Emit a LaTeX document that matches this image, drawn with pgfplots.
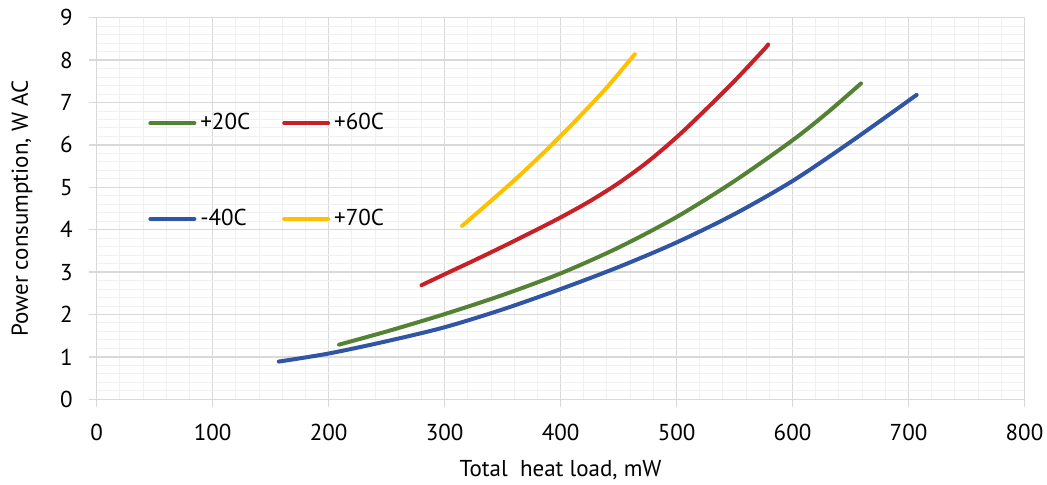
\documentclass[border=0pt]{standalone}
\usepackage{fontspec}
\setmainfont{PT Sans}
\usepackage{pgfplots}
\usepackage{pgfplotstable}
\pgfplotsset{compat=1.18}

\definecolor{cblue}{HTML}{2F55A4}
\definecolor{cgreen}{HTML}{548235}
\definecolor{cred}{HTML}{C62127}
\definecolor{cyellow}{HTML}{FFC000}
\definecolor{gridmaj}{HTML}{D9D9D9}
\definecolor{gridmin}{HTML}{F0F0F0}

% -40C
\pgfplotstableread{
x y
157 0.89
200 1.08
250 1.37
300 1.70
350 2.12
400 2.60
450 3.12
500 3.70
550 4.37
600 5.15
650 6.07
707 7.18
}\tblue

% +20C
\pgfplotstableread{
x y
209 1.29
250 1.60
300 2.01
350 2.46
400 2.97
450 3.58
500 4.30
550 5.15
600 6.11
630 6.76
659 7.45
}\tgreen

% +60C
\pgfplotstableread{
x y
280 2.69
300 2.95
325 3.27
350 3.60
375 3.94
400 4.29
425 4.67
450 5.10
475 5.60
500 6.18
525 6.83
550 7.51
575 8.24
579 8.37
}\tred

% +70C
\pgfplotstableread{
x y
315 4.09
340 4.68
365 5.29
390 5.94
415 6.63
440 7.36
464 8.14
}\tyellow

\begin{document}
\fontsize{11.5}{13.8}\selectfont
\begin{tikzpicture}
\begin{axis}[
  scale only axis,
  width=463.9pt, height=190.8pt,
  xmin=0, xmax=800, ymin=0, ymax=9,
  xtick distance=100, ytick distance=1,
  minor x tick num=4, minor y tick num=4,
  grid=both,
  major grid style={draw=gridmaj, line width=0.75pt},
  minor grid style={draw=gridmin, line width=0.5pt},
  axis line style={draw=gridmaj, line width=0.75pt},
  tick pos=left, tick align=outside,
  major tick length=4pt, minor tick length=0pt,
  tick style={draw=gridmaj, line width=0.75pt},
  /pgf/number format/assume math mode=true,
  xticklabel style={yshift=-4.5pt},
  yticklabel style={xshift=-4pt},
  every axis x label/.style={at={(axis description cs:0.5,-0.185)}, anchor=center},
  every axis y label/.style={at={(axis description cs:-0.0805,0.5)}, rotate=90, anchor=center},
  xlabel={Total\ \ heat load, mW},
  ylabel={Power consumption, W AC},
  legend columns=2,
  legend cell align=left,
  legend image code/.code={\draw[#1, line width=2pt, line cap=round] (0pt,0pt) -- (22pt,0pt);},
  legend style={draw=none, fill=none, inner sep=0pt,
    at={(axis cs:44.2,5.38)}, anchor=west,
    nodes={inner xsep=2pt, inner ysep=1pt},
    /tikz/row sep=36pt,
    /tikz/every even column/.append style={column sep=14pt}},
]
\addplot[cgreen, line width=2pt, line cap=round, smooth] table {\tgreen};
\addlegendentry{+20C}
\addplot[cred, line width=2pt, line cap=round, smooth] table {\tred};
\addlegendentry{+60C}
\addplot[cblue, line width=2pt, line cap=round, smooth] table {\tblue};
\addlegendentry{-40C}
\addplot[cyellow, line width=2pt, line cap=round, smooth] table {\tyellow};
\addlegendentry{+70C}
\end{axis}
\pgfresetboundingbox
\path (-48.35pt,-42.35pt) rectangle (475.15pt,199.65pt);
\end{tikzpicture}
\end{document}
